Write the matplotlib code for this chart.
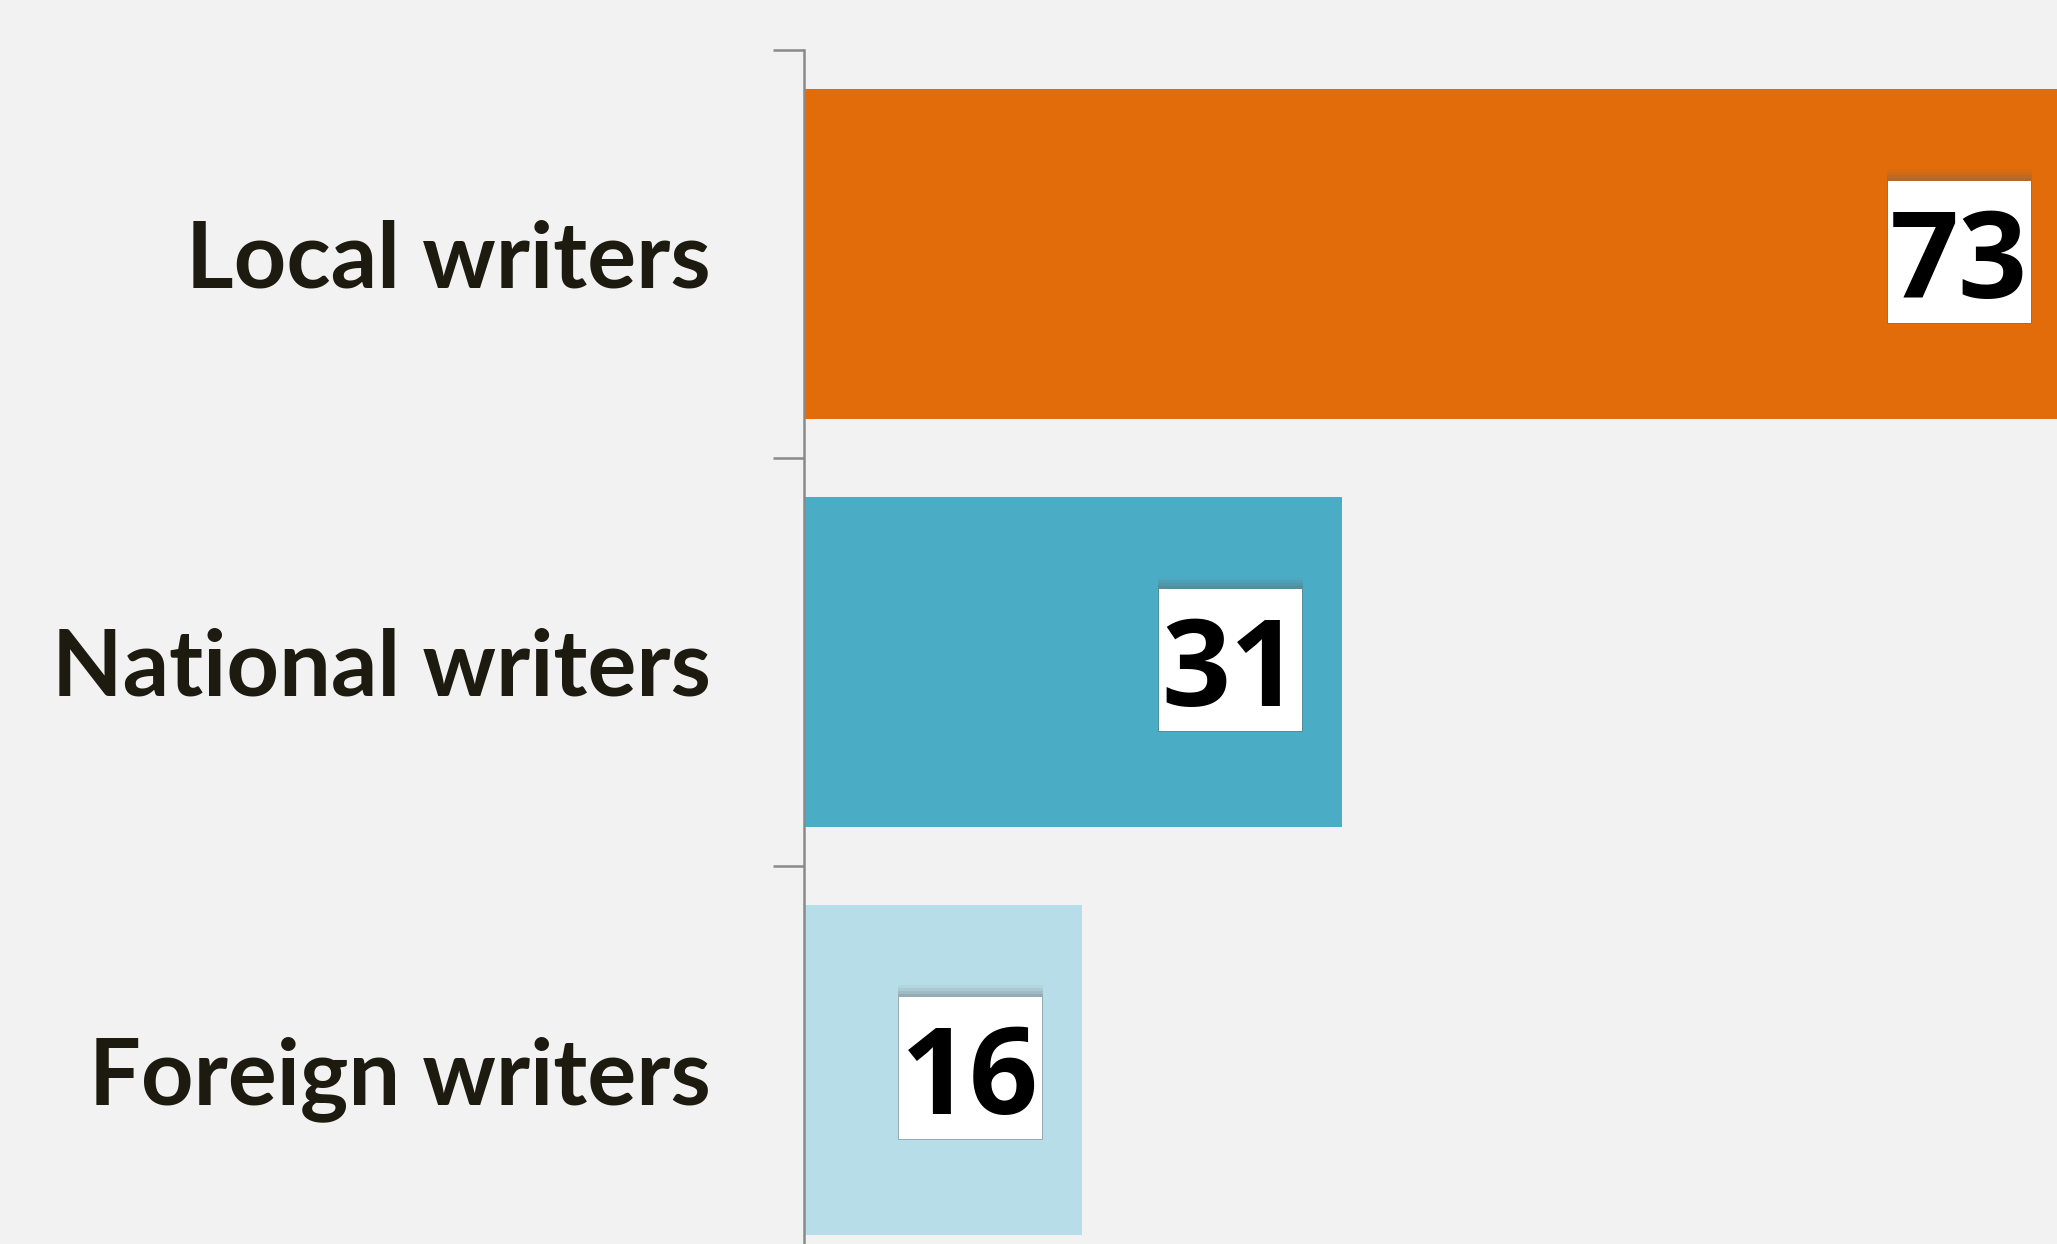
import matplotlib
matplotlib.use("Agg")
import matplotlib.pyplot as plt
from matplotlib.patches import Rectangle

categories = ["Local writers", "National writers", "Foreign writers"]
values = [73, 31, 16]
colors = ["#E36C0A", "#4BACC6", "#B7DEE8"]

BG = "#F2F2F2"
fig = plt.figure(figsize=(20.57, 12.44), dpi=100, facecolor=BG)
ax = fig.add_axes([0.3909, -0.024, 0.6091, 0.984])
ax.set_facecolor(BG)

y = list(range(len(categories)))
ax.barh(y, values, height=0.81, color=colors, zorder=2)
ax.set_xlim(0, 72.2)
ax.set_ylim(len(categories) - 0.5, -0.5)

for s in ["top", "right", "bottom"]:
    ax.spines[s].set_visible(False)
ax.spines["left"].set_color("#898989")
ax.spines["left"].set_linewidth(1.8)
ax.set_xticks([])
ax.set_yticks(y)
ax.set_yticklabels(categories, fontsize=66, fontweight="bold", color="#1D1B10",
                   family=["Lato", "DejaVu Sans"])
ax.tick_params(axis="y", which="major", length=0, pad=67)
ax.set_yticks([i - 0.5 for i in range(len(categories) + 1)], minor=True)
ax.tick_params(axis="y", which="minor", length=22, width=1.8, color="#898989")

texts = []
for yi, v in zip(y, values):
    t = ax.annotate(str(v), xy=(v, yi), xytext=(-31, -32), textcoords="offset points",
                    ha="right", va="baseline", fontsize=87, fontweight="bold",
                    color="black", family=["Open Sans", "DejaVu Sans"], zorder=6,
                    annotation_clip=False)
    texts.append((t, yi))

fig.canvas.draw()
renderer = fig.canvas.get_renderer()
inv = fig.transFigure.inverted()
for t, yi in texts:
    bb = t.get_window_extent(renderer)
    x0, x1 = bb.x0 - 2, bb.x1 + 3
    cy = ax.transData.transform((0, yi))[1] + 2
    y0, y1 = cy - 71, cy + 71
    for k, a in [(12, 0.06), (9, 0.10), (6, 0.14), (3, 0.18)]:
        (fx0, fy0) = inv.transform((x0 - 1, y0 - 1))
        (fx1, fy1) = inv.transform((x1 + 1, y1 + k))
        ax.add_patch(Rectangle((fx0, fy0), fx1 - fx0, fy1 - fy0, transform=fig.transFigure,
                               facecolor="#666666", alpha=a, edgecolor="none", zorder=3,
                               clip_on=False))
    (fx0, fy0) = inv.transform((x0, y0))
    (fx1, fy1) = inv.transform((x1, y1))
    ax.add_patch(Rectangle((fx0, fy0), fx1 - fx0, fy1 - fy0, transform=fig.transFigure,
                           facecolor="white", edgecolor="none", zorder=4, clip_on=False))

fig.savefig("out.png", dpi=100, facecolor=BG)
